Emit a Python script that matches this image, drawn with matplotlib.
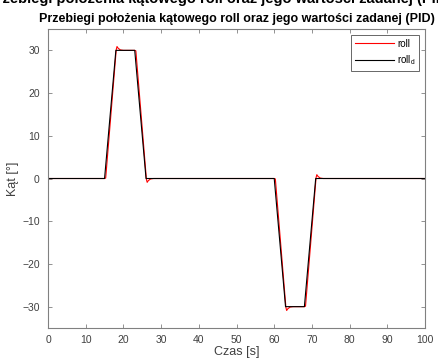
import matplotlib
matplotlib.use("Agg")
import matplotlib.pyplot as plt

# Reference signal roll_d
t_d = [0, 15, 18, 23, 26, 60, 63, 68, 71, 100]
roll_d = [0, 0, 30, 30, 0, 0, -30, -30, 0, 0]

# Measured roll (PID), slight overshoots at corners
t_r = [0, 15.0, 15.3, 18.1, 18.3, 18.6, 19.2, 20.0, 23.0, 23.3, 26.1, 26.3, 26.6, 27.2, 28.0,
       60.0, 60.3, 63.1, 63.3, 63.6, 64.2, 65.0, 68.0, 68.3, 71.1, 71.3, 71.6, 72.2, 73.0, 100]
roll = [0, 0, 0.1, 30.2, 30.9, 30.5, 30.1, 30.0, 30.0, 29.9, -0.2, -0.9, -0.5, -0.1, 0,
        0, -0.1, -30.2, -30.9, -30.5, -30.1, -30.0, -30.0, -29.9, 0.2, 0.9, 0.5, 0.1, 0, 0]

xticks = list(range(0, 101, 10))
yticks = [-30, -20, -10, 0, 10, 20, 30]

plt.rcParams['font.family'] = ['Liberation Sans', 'DejaVu Sans']

fig = plt.figure(figsize=(4.38, 3.63), dpi=100)
ax = fig.add_axes([0.1096, 0.0964, 0.8608, 0.8237])

ax.plot(t_r, roll, color='#ff0000', lw=0.8, label='roll')
ax.plot(t_d, roll_d, color='#000000', lw=0.8, label='roll$_\\mathregular{d}$')

ax.set_xlim(0, 100)
ax.set_ylim(-35, 35)
ax.set_xticks(xticks)
ax.set_yticks(yticks)

axc = '#808080'
for s in ax.spines.values():
    s.set_color(axc)
    s.set_linewidth(0.8)
ax.tick_params(direction='in', top=True, right=True, length=3, width=0.6, color=axc,
               labelsize=7.5, labelcolor='#404040')
ax.tick_params(axis='y', pad=6)
ax.tick_params(axis='x', pad=5)

ax.set_xlabel('Czas [s]', fontsize=9, color='#404040', labelpad=1)
ax.set_ylabel('Kąt [°]', fontsize=9, color='#404040', labelpad=2)
ax.set_title('Przebiegi położenia kątowego roll oraz jego wartości zadanej (PID)',
             fontsize=9, fontweight='bold', pad=5)

fig.text(0.5, 1 - 2.5/363, 'Przebiegi położenia kątowego roll oraz jego wartości zadanej (PID)',
         fontsize=10.5, fontweight='bold', ha='center', va='baseline')

leg = ax.legend(loc='upper right', fontsize=7, frameon=True, fancybox=False,
                edgecolor='#404040', handlelength=4.0, handletextpad=0.3,
                borderaxespad=0.6, labelspacing=0.5, borderpad=0.4)
leg.get_frame().set_linewidth(0.7)

fig.savefig('out.png', dpi=100)
